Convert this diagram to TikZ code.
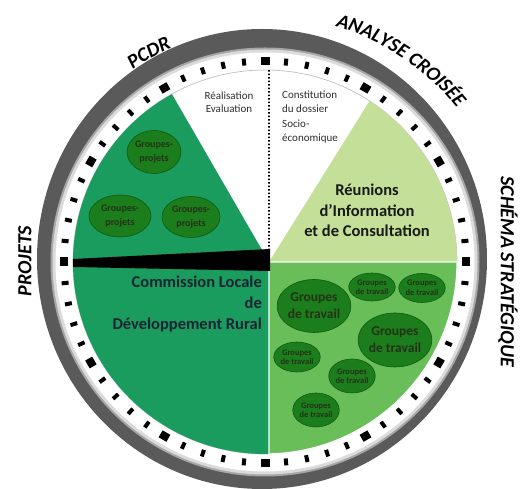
\documentclass[tikz,border=0pt]{standalone}
\usepackage{fontspec}
\setmainfont{Carlito}
\usetikzlibrary{shapes.geometric,decorations.text,calc}
\definecolor{dkgreen}{HTML}{1A9C5E}
\definecolor{mdgreen}{HTML}{6ABE5A}
\definecolor{ltgreen}{HTML}{C4DF97}
\definecolor{ellfill}{HTML}{1B7D1B}
\definecolor{ellline}{HTML}{0F5A0F}
\definecolor{elltext}{HTML}{25321A}
\definecolor{ringgray}{HTML}{5A5A5A}
\definecolor{titletext}{HTML}{1C2433}
\newcommand{\myfs}[2]{\fontsize{#1}{#2}\selectfont}
\begin{document}
\begin{tikzpicture}[x=1pt,y=1pt,
 grp/.style={ellipse, fill=ellfill, draw=ellline, line width=0.6pt, inner sep=0pt, align=center, text=elltext},
 gsmall/.style={grp, minimum width=44, minimum height=29, font=\myfs{8.5}{9.5}\bfseries},
 gbig/.style={grp, minimum width=71, minimum height=53, font=\myfs{13.5}{17}\bfseries},
 gproj/.style={grp, font=\myfs{10}{13.3}\bfseries},
 smalltxt/.style={inner sep=0pt, text=black!82},
 bigtxt/.style={inner sep=0pt, text=titletext, font=\myfs{16.5}{21}\bfseries},
 outlbl/.style={font=\myfs{20}{20}\bfseries\itshape, inner sep=0pt},
 dots/.style={line width=1.8pt, dash pattern=on 1.6pt off 1.9pt}
]
\useasboundingbox (0,0) rectangle (525,489);
\coordinate (C) at (265,227);
\coordinate (P) at (269,227);
% ring
\fill[ringgray] (262,230) ellipse [x radius=225, y radius=230];
\fill[black!35] (C) circle [radius=214.5];
\fill[black!14] (C) circle [radius=212.5];
\fill[white] (C) circle [radius=209.5];
% ticks
\foreach \k in {0,...,59}{
  \pgfmathtruncatemacro{\m}{mod(\k,5)}
  \ifnum\m=0
    \fill[shift={(C)}, rotate=6*\k] (197,-4.5) rectangle (205,4.5);
  \else
    \fill[shift={(C)}, rotate=6*\k] (197.5,-2) rectangle (204.5,2);
  \fi
}
% pie
\draw[black!25, line width=0.7pt] (C) circle [radius=192];
\fill[dkgreen] (P) -- ($(C)+(119:192)$) arc[start angle=119, end angle=271.2, radius=192] -- cycle;
\fill[ltgreen] (P) -- ($(C)+(57:192)$) arc[start angle=57, end angle=0, radius=192] -- cycle;
\filldraw[fill=mdgreen, draw=white, line width=1.2pt] (P) -- ($(C)+(0:192)$) arc[start angle=0, end angle=-88.8, radius=192] -- cycle;
\coordinate (top) at ($(C)+(88.8:192)$);
\draw[dots] (top) -- (P);
% hand
\fill[black] (73,230) -- (270,240) -- (270,218) -- (73,222) -- cycle;
% sector texts
\node[smalltxt, align=center, font=\myfs{11}{13}] (real) at (229,387) {Réalisation\\Evaluation};
\node[smalltxt, align=left, anchor=west, font=\myfs{11}{14.4}] (const) at (282,372) {Constitution\\du dossier\\Socio-\\économique};
\node[bigtxt, align=center, text=black!90, font=\myfs{16.5}{20.5}\bfseries] (reun) at (367,278.5) {Réunions\\d’Information\\et de Consultation};
\node[bigtxt, align=right, anchor=east] (cldr) at (262,185) {Commission Locale\\de\\Développement Rural};
% groupes-projets
\node[gproj, minimum width=52, minimum height=43] (gp1) at (154,337) {Groupes-\\projets};
\node[gproj, minimum width=62, minimum height=42] (gp2) at (120,273) {Groupes-\\projets};
\node[gproj, minimum width=58, minimum height=41] (gp3) at (191,272) {Groupes-\\projets};
% groupes de travail
\node[gbig] (gt1) at (314,183) {Groupes\\de travail};
\node[gsmall, minimum height=28] (gt2) at (372,202) {Groupes\\de travail};
\node[gsmall] (gt3) at (422,201) {Groupes\\de travail};
\node[gbig, minimum height=54] (gt4) at (395,149) {Groupes\\de travail};
\node[gsmall, minimum height=30] (gt5) at (297,132) {Groupes\\de travail};
\node[gsmall, minimum width=45, minimum height=34] (gt6) at (352,113) {Groupes\\de travail};
\node[gsmall, minimum width=45, minimum height=34] (gt7) at (316,79) {Groupes\\de travail};
% outside labels
\node[outlbl, rotate=90] (projets) at (25,228) {PROJETS};
\node[outlbl, rotate=-90] (schema) at (508,217) {SCHÉMA STRATÉGIQUE};
\path[decorate, decoration={text along path, text={|\myfs{20}{20}\bfseries\itshape|PCDR}, text align=center}]
  ($(C)+(140:233.5)$) arc[start angle=140, end angle=98, radius=233.5];
\path[decorate, decoration={text along path, text={|\myfs{20}{20}\bfseries\itshape|ANALYSE CROISÉE}, text align=center}]
  ($(C)+(82:246)$) arc[start angle=82, end angle=30, radius=246];
\end{tikzpicture}
\end{document}
